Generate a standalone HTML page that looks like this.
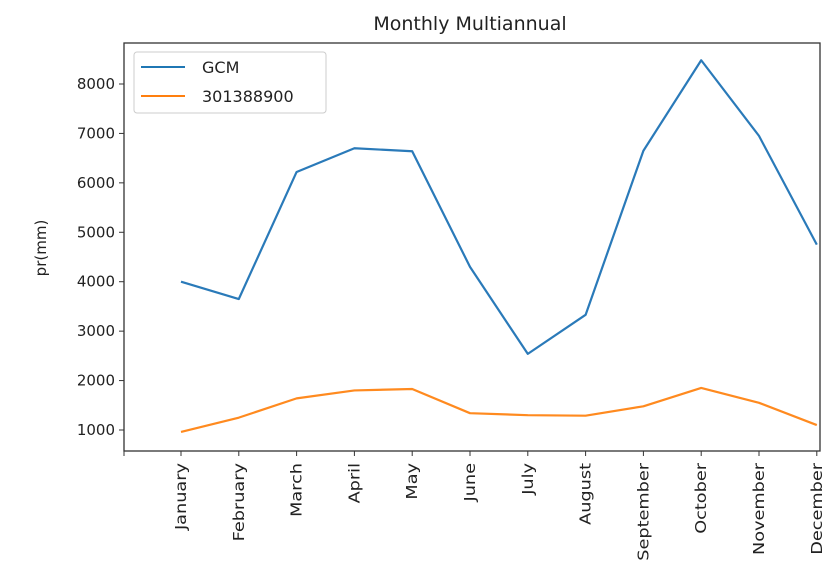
<!DOCTYPE html>
<html><head><meta charset="utf-8"><style>
body{margin:0;background:#fff;}
svg text{font-family:"DejaVu Sans","Liberation Sans",sans-serif;fill:#222;}
</style></head><body>
<svg id="chart" width="831" height="570">
<text x="470" y="30" font-size="19" text-anchor="middle">Monthly Multiannual</text>
<text transform="translate(46,248) rotate(-90)" font-size="15" text-anchor="middle">pr(mm)</text>
<rect x="124" y="43" width="696" height="408" fill="none" stroke="#333" stroke-width="1.3"/>
<g id="legend">
<rect x="134" y="52" width="192" height="61" rx="3" fill="#fff" stroke="#ccc"/>
<line x1="141" y1="67" x2="185" y2="67" stroke="#1f77b4" stroke-width="2"/>
<text x="202" y="73" font-size="16">GCM</text>
<line x1="141" y1="96" x2="185" y2="96" stroke="#ff7f0e" stroke-width="2"/>
<text x="202" y="102" font-size="16">301388900</text>
</g>
</svg>
<script>
const months=["January","February","March","April","May","June","July","August","September","October","November","December"];
const gcm=[4000,3650,6220,6700,6640,4300,2540,3330,6650,8480,6950,4750];
const station=[960,1250,1640,1800,1830,1340,1300,1290,1480,1850,1550,1100];
const yTicks=[1000,2000,3000,4000,5000,6000,7000,8000];
const NS="http://www.w3.org/2000/svg";
const svg=document.getElementById('chart');
const legend=document.getElementById('legend');
const x=i=>181+i*57.8;
const y=v=>430-(v-1000)*0.04943;
function mk(t,a){const e=document.createElementNS(NS,t);for(const k in a)e.setAttribute(k,a[k]);return e;}
yTicks.forEach(v=>{
 const l=mk('line',{x1:119,x2:124,y1:y(v),y2:y(v),stroke:'#333'});
 
 
 svg.insertBefore(l,legend);
 const t=mk('text',{x:115,y:y(v)+5,'font-size':15,'text-anchor':'end'});
 t.textContent=v;
 
 
 svg.insertBefore(t,legend);
});
const lt=mk('line',{x1:124,x2:124,y1:451,y2:456,stroke:'#333'});


svg.insertBefore(lt,legend);
months.forEach((m,i)=>{
 const l=mk('line',{x1:x(i),x2:x(i),y1:451,y2:456,stroke:'#333'});
 
 
 svg.insertBefore(l,legend);
 const t=mk('text',{transform:`translate(${x(i)+5},463) rotate(-90) scale(1.18,1)`,'font-size':15,'text-anchor':'end'});
 t.textContent=m;
 
 
 svg.insertBefore(t,legend);
});
function line(vals,color,name){
 const p=mk('polyline',{points:vals.map((v,i)=>x(i)+','+y(v)).join(' '),fill:'none',stroke:color,'stroke-width':2.2,'stroke-linejoin':'round'});
 
 
 svg.insertBefore(p,legend);
}
line(gcm,'#2a7ab9','gcm-line');
line(station,'#ff8a1f','station-line');
</script>
</body></html>
